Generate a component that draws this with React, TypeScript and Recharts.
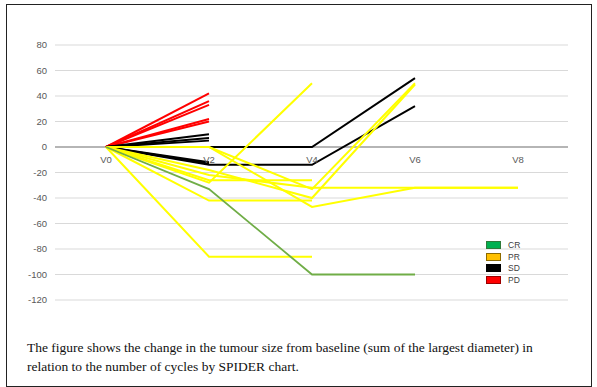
import React from "react";
import { LineChart, Line, XAxis, YAxis, CartesianGrid, ReferenceLine, ReferenceDot } from 'recharts';

// visits on the x axis
const visits = ['V0', 'V2', 'V4', 'V6', 'V8'];
const yTicks = [80, 60, 40, 20, 0, -20, -40, -60, -80, -100, -120];

// % change from baseline, one array per patient (shorter = fewer cycles)
const pd1 = [0, 42];
const pd2 = [0, 36];
const pd3 = [0, 33];
const pd4 = [0, 22];
const pd5 = [0, 20];

const sd1 = [0, 10];
const sd2 = [0, 7];
const sd3 = [0, 5];
const sd4 = [0, 0, 0, 54];
const sd5 = [0, -14, -14, 32];
const sd6 = [0, -12];
const sd7 = [0, -13];

const pr1 = [0, -86, -86];
const pr2 = [0, -42, -42];
const pr3 = [0, -28, 50];
const pr4 = [0, -26, -26];
const pr5 = [0, 0, -47, -32, -32];
const pr6 = [0, 0, -33, 50];
const pr7 = [0, -18, -40, 49];
const pr8 = [0, -22, -32, -32, -32];

const cr1 = [0, -33, -100, -100];

const series = [
    { key: 'pd1', values: pd1, color: '#FF0000' },
    { key: 'pd2', values: pd2, color: '#FF0000' },
    { key: 'pd3', values: pd3, color: '#FF0000' },
    { key: 'pd4', values: pd4, color: '#FF0000' },
    { key: 'pd5', values: pd5, color: '#FF0000' },
    { key: 'sd1', values: sd1, color: '#000000' },
    { key: 'sd2', values: sd2, color: '#000000' },
    { key: 'sd3', values: sd3, color: '#000000' },
    { key: 'sd4', values: sd4, color: '#000000' },
    { key: 'sd5', values: sd5, color: '#000000' },
    { key: 'sd6', values: sd6, color: '#000000' },
    { key: 'sd7', values: sd7, color: '#000000' },
    { key: 'pr1', values: pr1, color: '#FFFF00' },
    { key: 'pr2', values: pr2, color: '#FFFF00' },
    { key: 'pr3', values: pr3, color: '#FFFF00' },
    { key: 'pr4', values: pr4, color: '#FFFF00' },
    { key: 'pr5', values: pr5, color: '#FFFF00' },
    { key: 'pr6', values: pr6, color: '#FFFF00' },
    { key: 'pr7', values: pr7, color: '#FFFF00' },
    { key: 'pr8', values: pr8, color: '#FFFF00' },
    { key: 'cr1', values: cr1, color: '#70AD47' },
];

const legendItems = [
    { label: 'CR', color: '#00B050', border: '#2F7A3A' },
    { label: 'PR', color: '#FFC000', border: '#8C6A00' },
    { label: 'SD', color: '#000000', border: '#000000' },
    { label: 'PD', color: '#FF0000', border: '#9A0000' },
];

const caption = 'The figure shows the change in the tumour size from baseline (sum of the largest diameter) in relation to the number of cycles by SPIDER chart.';

const chartData = visits.map((visit, i) => {
    const row: Record<string, string | number | null> = { visit };
    series.forEach(s => { row[s.key] = i < s.values.length ? s.values[i] : null; });
    return row;
});

const axisFont = { fontSize: 9.5, fill: '#595959', fontFamily: 'Liberation Sans, Arial, sans-serif' };

const App: React.FC = () => {
    return (
        <div style={{ position: 'absolute', left: 6, top: 4, width: 586, height: 383, border: '1px solid #222', boxSizing: 'border-box', background: '#fff' }}>
            <LineChart width={584} height={320} data={chartData} margin={{ top: 40, right: 23, left: 8, bottom: 25 }}>
                <CartesianGrid vertical={false} stroke="#d9d9d9" />
                <XAxis dataKey="visit" hide padding={{ left: 51, right: 50 }} />
                <YAxis domain={[-120, 80]} ticks={yTicks} width={40} axisLine={false} tickLine={false} tick={axisFont} interval={0} />
                <ReferenceLine y={0} stroke="#7f7f7f" strokeWidth={1.2} />
                {visits.map(v => (
                    <ReferenceDot key={v} x={v} y={0} r={0} fill="none" stroke="none"
                        label={{ value: v, position: 'bottom', offset: 9, ...axisFont }} />
                ))}
                {series.map(s => (
                    <Line key={s.key} dataKey={s.key} stroke={s.color} strokeWidth={s.key === 'cr1' ? 1.8 : 2}
                        dot={false} activeDot={false} isAnimationActive={false} type="linear" />
                ))}
            </LineChart>
            <div style={{ position: 'absolute', left: 479, top: 234, fontFamily: 'Liberation Sans, Arial, sans-serif', fontSize: 8.5, color: '#404040' }}>
                {legendItems.map(item => (
                    <div key={item.label} style={{ display: 'flex', alignItems: 'center', height: 11.7 }}>
                        <span style={{ width: 13, height: 6, background: item.color, border: `1px solid ${item.border}`, marginRight: 7 }} />
                        <span>{item.label}</span>
                    </div>
                ))}
            </div>
            <div style={{ position: 'absolute', left: 20, top: 333, width: 535, fontFamily: 'Liberation Serif, Times New Roman, serif', fontSize: 13.5, lineHeight: '19px', color: '#111' }}>
                {caption}
            </div>
        </div>
    );
};

export default App;
